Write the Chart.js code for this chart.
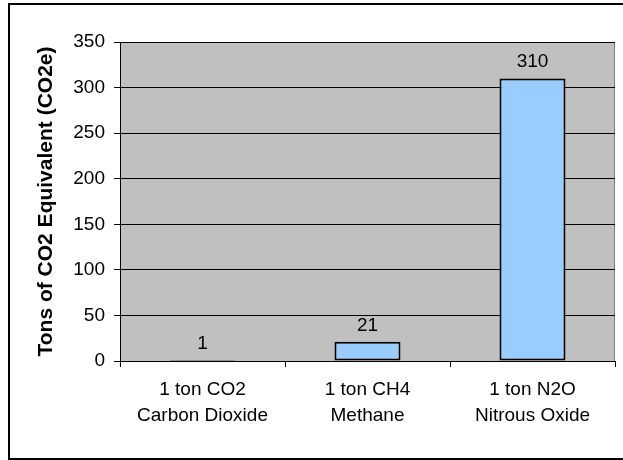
<!DOCTYPE html>
<html>
<head>
<meta charset="utf-8">
<style>
  html, body { margin: 0; padding: 0; background: #fff; }
  #wrap { width: 623px; height: 460px; }
</style>
<script src="https://cdn.jsdelivr.net/npm/chart.js@4/dist/chart.umd.min.js"></script>
</head>
<body>
<div id="wrap"><canvas id="co2Chart" width="623" height="460"></canvas></div>
<script>
const categories = [
    ["1 ton CO2", "Carbon Dioxide"],
    ["1 ton CH4", "Methane"],
    ["1 ton N2O", "Nitrous Oxide"]
];
const co2eValues = [1, 21, 310];
const yTicks = [0, 50, 100, 150, 200, 250, 300, 350];

const FONT = "'Liberation Sans', Arial, sans-serif";

// gray plot background + outer frame
const framePlugin = {
    id: "frame",
    beforeDraw(chart) {
        const { ctx, chartArea: a } = chart;
        ctx.save();
        ctx.fillStyle = "#fff";
        ctx.fillRect(0, 0, chart.width, chart.height);
        ctx.fillStyle = "#c0c0c0";
        ctx.fillRect(a.left, a.top, a.right - a.left, a.bottom - a.top);
        ctx.strokeStyle = "#808080";
        ctx.lineWidth = 1;
        ctx.strokeRect(a.left + 0.5, a.top + 0.5, a.right - a.left - 1, a.bottom - a.top);
        ctx.strokeStyle = "#000";
        ctx.lineWidth = 2;
        ctx.strokeRect(9, 4, 700, 455);
        ctx.restore();
    }
};

// value labels above bars
const valueLabels = {
    id: "valueLabels",
    afterDatasetsDraw(chart) {
        const { ctx } = chart;
        const meta = chart.getDatasetMeta(0);
        ctx.save();
        ctx.font = "19px " + FONT;
        ctx.fillStyle = "#000";
        ctx.textAlign = "center";
        ctx.textBaseline = "alphabetic";
        meta.data.forEach((bar, i) => {
            ctx.fillText(String(co2eValues[i]), bar.x, bar.y - 11);
        });
        ctx.restore();
    }
};

new Chart(document.getElementById("co2Chart"), {
    type: "bar",
    data: {
        labels: categories,
        datasets: [{
            data: co2eValues,
            backgroundColor: "#99ccff",
            borderColor: "#000",
            borderWidth: 2,
            borderSkipped: false,
            barPercentage: 0.4,
            categoryPercentage: 1.0
        }]
    },
    options: {
        responsive: false,
        animation: false,
        devicePixelRatio: 1,
        layout: { padding: { left: 10, right: 8, top: 42, bottom: 0 } },
        plugins: {
            legend: { display: false },
            tooltip: { enabled: false }
        },
        scales: {
            x: {
                offset: true,
                grid: {
                    offset: true,
                    drawOnChartArea: false,
                    drawTicks: true,
                    tickLength: 6,
                    color: "#000"
                },
                border: { color: "#000", width: 1 },
                ticks: {
                    color: "#000",
                    padding: 10,
                    maxRotation: 0,
                    font: { family: FONT, size: 19, lineHeight: 1.37 }
                },
                afterFit(scale) { scale.height = 99; }
            },
            y: {
                min: 0,
                max: 350,
                afterBuildTicks(scale) {
                    scale.ticks = yTicks.map(v => ({ value: v }));
                },
                grid: {
                    color: "#000",
                    lineWidth: 1,
                    tickLength: 6
                },
                border: { color: "#000", width: 1 },
                ticks: {
                    color: "#000",
                    padding: 9,
                    font: { family: FONT, size: 19 }
                },
                title: {
                    display: true,
                    text: "Tons of CO2 Equivalent (CO2e)",
                    color: "#000",
                    padding: { top: 24, bottom: 0 },
                    font: { family: FONT, size: 21, weight: "bold" }
                },
                afterFit(scale) { scale.width = 110; }
            }
        }
    },
    plugins: [framePlugin, valueLabels]
});
</script>
</body>
</html>
